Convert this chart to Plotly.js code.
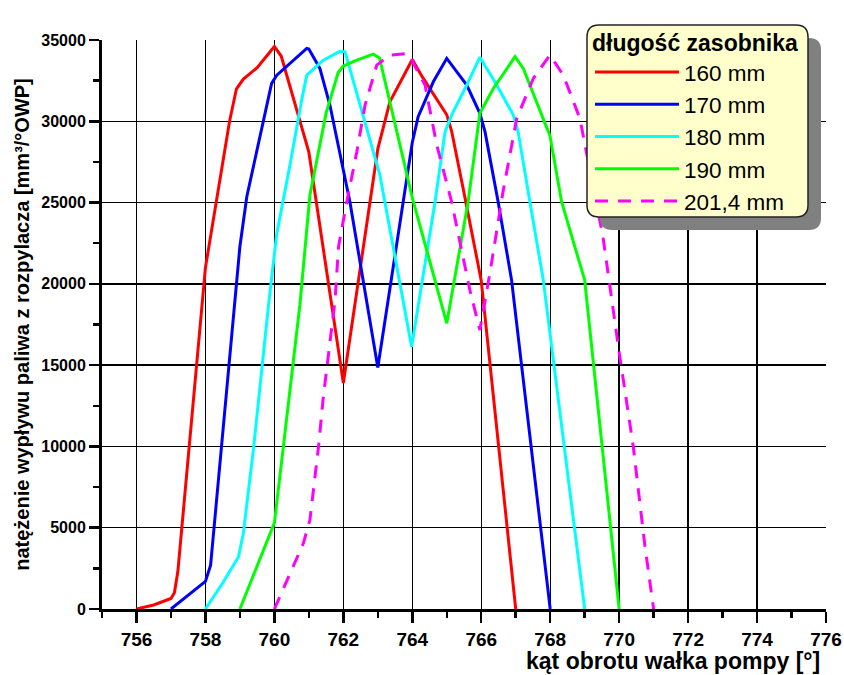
<!DOCTYPE html>
<html>
<head>
<meta charset="utf-8">
<script src="https://cdn.plot.ly/plotly-3.0.1.min.js"></script>
<style>html,body{margin:0;padding:0;background:#fff;}#chart{width:844px;height:675px;}</style>
</head>
<body>
<div id="chart"></div>
<script>
// ---- data ----
const seriesNames = ["160 mm", "170 mm", "180 mm", "190 mm", "201,4 mm"];

const x160 = [756, 756.5, 757, 757.1, 757.2, 758, 758.7, 758.9, 759.1, 759.5, 760, 760.2, 761, 762, 763, 763.35, 764, 764.3, 765, 765.14, 765.5, 766, 767];
const y160 = [0, 250, 650, 1000, 2300, 21000, 30000, 32000, 32600, 33300, 34600, 34000, 28100, 13900, 28300, 31200, 33800, 32700, 30400, 29400, 25600, 20200, 0];

const x170 = [757, 757.5, 758, 758.15, 758.86, 759, 759.2, 759.68, 759.92, 760.07, 760.45, 760.94, 761, 761.32, 761.61, 761.9, 762.19, 763, 764, 764.17, 764.61, 765, 765.58, 765.96, 766.11, 766.49, 766.88, 768];
const y170 = [0, 850, 1700, 2700, 19000, 22300, 25360, 30070, 32330, 32840, 33560, 34480, 34450, 33250, 31000, 28120, 25050, 14860, 28700, 30280, 32430, 33870, 32230, 30490, 29350, 25050, 20230, 0];

const x180 = [758, 758.5, 758.96, 759.1, 759.39, 759.83, 760.07, 760.46, 760.79, 760.94, 761.42, 761.9, 762.05, 762.29, 762.58, 762.87, 763.06, 763.98, 764.66, 764.95, 765.14, 765.58, 765.96, 766.45, 766.93, 767.07, 767.41, 767.8, 769];
const y180 = [0, 1600, 3220, 4660, 9780, 18700, 23100, 27400, 31300, 32840, 33760, 34300, 34270, 32430, 30180, 28120, 26690, 16130, 25050, 29350, 30380, 32230, 33940, 32230, 30380, 29350, 25050, 20230, 0];

const x190 = [759, 760, 760.26, 760.55, 760.74, 761.03, 761.5, 761.85, 762, 762.39, 762.87, 763.05, 764, 765, 765.62, 765.96, 766.35, 766.98, 767.22, 767.85, 767.99, 768.33, 769, 770];
const y190 = [0, 5300, 9980, 15300, 18700, 25460, 30500, 33000, 33400, 33760, 34130, 33900, 25300, 17570, 25050, 30490, 32020, 33970, 33250, 29870, 29150, 25050, 20230, 0];

const x201 = [760, 760.84, 761.03, 761.28, 761.42, 761.52, 761.76, 761.86, 762.1, 762.39, 762.63, 762.97, 763.35, 763.88, 764.37, 764.71, 765.14, 765.67, 765.96, 766.25, 766.64, 767.03, 767.51, 767.99, 768.38, 768.86, 769.53, 770, 770.41, 770.75, 771];
const y201 = [0, 4040, 5470, 9980, 13060, 14900, 19000, 22280, 25050, 28120, 31000, 33460, 34070, 34170, 32230, 28540, 25050, 19620, 17160, 20650, 25770, 30180, 32640, 34070, 32840, 30180, 22900, 15800, 9980, 3830, 0];

const xTickVals = [756, 758, 760, 762, 764, 766, 768, 770, 772, 774, 776];
const yTickVals = [0, 5000, 10000, 15000, 20000, 25000, 30000, 35000];

const colors = ["#ff0000", "#0000ff", "#00ffff", "#00ff00", "#ff00ff"];
const dashes = ["solid", "solid", "solid", "solid", "13px,10px"];
const xs = [x160, x170, x180, x190, x201];
const ys = [y160, y170, y180, y190, y201];

const FONT = "Liberation Sans, Arial, Helvetica, sans-serif";

const traces = seriesNames.map((n, i) => ({
  type: "scatter", mode: "lines", name: n,
  x: xs[i], y: ys[i],
  line: {color: colors[i], width: 3, dash: dashes[i]},
  hoverinfo: "x+y+name"
}));

// geometry helpers (plot area 102..826 x 40..609 px)
const L = 102, T = 40, W = 724, H = 569;
const px = v => (v - L) / W;
const py = v => (T + H - v) / H;
function roundRect(x0, y0, x1, y1, r) {
  const rx = r / W, ry = r / H;
  const a = px(x0), b = px(x1), top = py(y0), bot = py(y1);
  return `M${a + rx},${top} L${b - rx},${top} Q${b},${top} ${b},${top - ry} L${b},${bot + ry} Q${b},${bot} ${b - rx},${bot} L${a + rx},${bot} Q${a},${bot} ${a},${bot + ry} L${a},${top - ry} Q${a},${top} ${a + rx},${top} Z`;
}

const layout = {
  width: 844, height: 675,
  margin: {l: L, r: 844 - L - W, t: T, b: 675 - T - H, pad: 0},
  paper_bgcolor: "#ffffff", plot_bgcolor: "#ffffff",
  font: {family: FONT, color: "#000"},
  showlegend: true,
  xaxis: {
    range: [755, 776], tickvals: xTickVals, ticktext: xTickVals.map(String),
    ticks: "outside", ticklen: 11, tickwidth: 2.5, tickcolor: "#000",
    showline: true, linewidth: 3, linecolor: "#000",
    showgrid: true, gridcolor: "#000", gridwidth: 1.3,
    zeroline: false, automargin: false,
    tickfont: {family: FONT, size: 19, color: "#000", weight: "bold"},
    minor: {dtick: 1, tick0: 755, ticks: "outside", ticklen: 6, tickwidth: 2.5, tickcolor: "#000", showgrid: false}
  },
  yaxis: {
    range: [0, 35000], tickvals: yTickVals, ticktext: yTickVals.map(String),
    ticks: "outside", ticklen: 10, tickwidth: 2.5, tickcolor: "#000",
    showline: true, linewidth: 3, linecolor: "#000",
    showgrid: true, gridcolor: "#000", gridwidth: 1.3,
    zeroline: false, automargin: false,
    tickfont: {family: FONT, size: 16, color: "#000", weight: "bold"},
    minor: {dtick: 2500, tick0: 0, ticks: "outside", ticklen: 6, tickwidth: 2.5, tickcolor: "#000", showgrid: false},
    title: {text: "natężenie wypływu paliwa z rozpylacza [mm³/°OWP]", standoff: 7,
            font: {family: FONT, size: 20, color: "#000", weight: "bold"}}
  },
  legend: {
    x: px(590), y: py(21), xanchor: "left", yanchor: "top",
    bgcolor: "rgba(0,0,0,0)", borderwidth: 0,
    itemwidth: 84, tracegroupgap: 0,
    font: {family: FONT, size: 22.5, color: "#000"},
    title: {text: "długość zasobnika", font: {family: FONT, size: 23, color: "#000", weight: "bold"}}
  },
  shapes: [
    {type: "path", xref: "paper", yref: "paper", layer: "above",
     path: roundRect(600, 38, 821, 230, 12), fillcolor: "#808080", line: {width: 0}},
    {type: "path", xref: "paper", yref: "paper", layer: "above",
     path: roundRect(587, 25, 808, 217, 12), fillcolor: "#ffffcc", line: {color: "#222", width: 1.5}}
  ],
  annotations: [
    {text: "<b>kąt obrotu wałka pompy [°]</b>", xref: "paper", yref: "paper",
     x: px(821), y: py(661), xanchor: "right", yanchor: "middle", showarrow: false,
     borderpad: 0, font: {family: FONT, size: 23, color: "#000"}}
  ]
};

Plotly.newPlot("chart", traces, layout, {displayModeBar: false, staticPlot: true});
</script>
</body>
</html>
